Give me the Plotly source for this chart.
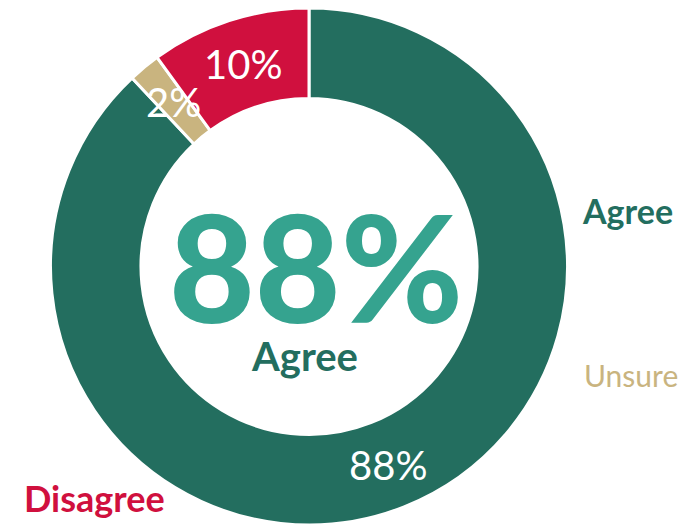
import math
import plotly.graph_objects as go

labels = ["Agree", "Unsure", "Disagree"]
values = [88, 2, 10]
colors = ["#236E5F", "#C9B47F", "#D0103E"]
center_value = "88%"
center_label = "Agree"

# page body has an 8px default margin, so the figure is sized to fill the rest
OFF = 8
W, H = 690 - OFF, 525 - OFF
dom_x = [(48 - OFF) / W, (570 - OFF) / W]
dom_y = [0.0, 1.0]
hole = 0.65


def px(X):
    return (X - OFF) / W


def py(Y):
    return 1 - (Y - OFF) / H


fig = go.Figure(go.Pie(
    labels=labels, values=values, sort=False, direction="clockwise", rotation=0,
    hole=hole, marker=dict(colors=colors, line=dict(color="white", width=3)),
    textinfo="none", hoverinfo="label+percent", showlegend=False,
    domain=dict(x=dom_x, y=dom_y),
))

# slice labels placed at the middle of each ring segment (figure pixel coords)
cx = (dom_x[0] + dom_x[1]) / 2 * W
cy = H - (dom_y[0] + dom_y[1]) / 2 * H
R = min((dom_x[1] - dom_x[0]) * W, (dom_y[1] - dom_y[0]) * H) / 2
rmid = R * (1 + hole) / 2
total = sum(values)
cum = 0
annotations = []
for v in values:
    mid = (cum + v / 2) / total * 2 * math.pi
    cum += v
    fx = cx + rmid * math.sin(mid)
    fy = cy - rmid * math.cos(mid)
    annotations.append(dict(x=fx / W, y=1 - fy / H, xref="paper", yref="paper",
                            xanchor="center", yanchor="middle",
                            text=f"{round(v / total * 100)}%", showarrow=False,
                            font=dict(family="Lato", size=40, color="white")))


def note(X, Y, text, size, color, weight="bold"):
    return dict(x=px(X), y=py(Y), xref="paper", yref="paper", xanchor="center",
                yanchor="middle", text=text, showarrow=False,
                font=dict(family="Lato", size=size, color=color, weight=weight))


annotations += [
    note(316, 266, center_value, 148, "#35A38F", weight=900),
    note(304, 356, center_label, 40, colors[0]),
    note(627, 210, labels[0], 34, colors[0]),
    note(631, 375, labels[1], 30, colors[1], weight="normal"),
    note(94, 498, labels[2], 36, colors[2]),
]

fig.update_layout(width=W, height=H, margin=dict(l=0, r=0, t=0, b=0),
                  paper_bgcolor="white", plot_bgcolor="white", annotations=annotations)
fig.write_html("out.html")
